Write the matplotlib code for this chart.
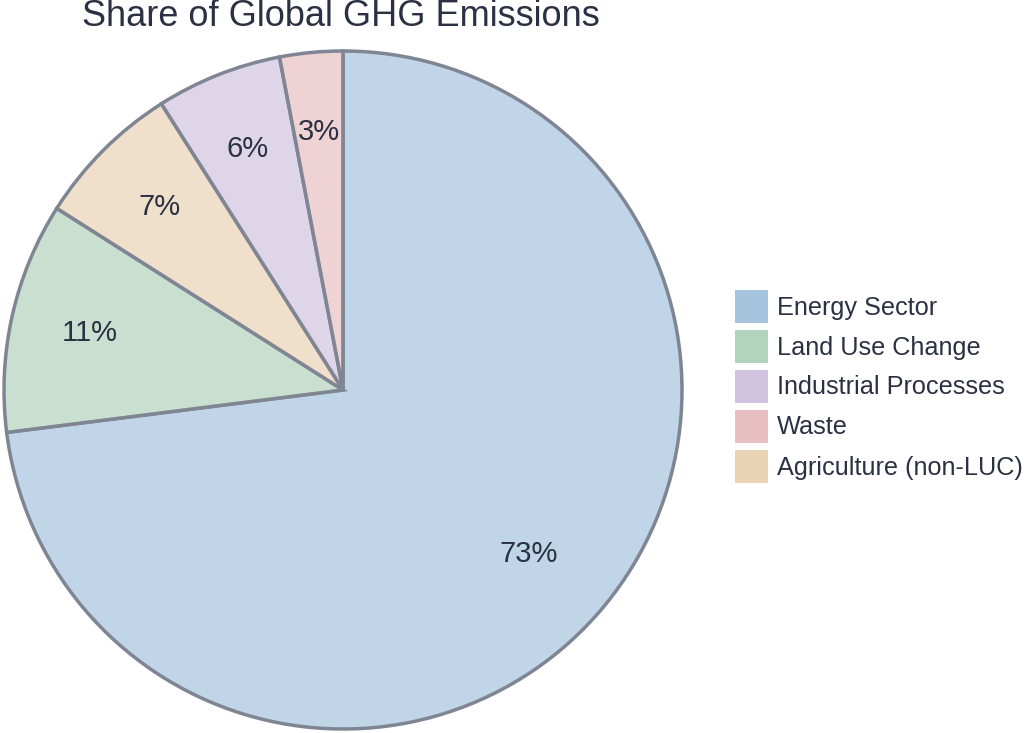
import matplotlib
matplotlib.use("Agg")
import matplotlib.pyplot as plt
from matplotlib.patches import Rectangle
import matplotlib.colors as mcolors
import numpy as np

plt.rcParams['font.family'] = ['Liberation Sans', 'DejaVu Sans']

categories = ["Energy Sector", "Land Use Change", "Industrial Processes", "Waste", "Agriculture (non-LUC)"]
values = [73, 11, 6, 3, 7]
colors = ["#a6c4de", "#b2d4bc", "#d0c4e0", "#e8bfc2", "#ead3b5"]
title = "Share of Global GHG Emissions"

text_color = "#2a3142"
edge_color = "#7f8593"

W, H = 1024, 733
fig = plt.figure(figsize=(W / 100, H / 100), dpi=100)

# pie sorted descending, clockwise from top
order = sorted(range(len(values)), key=lambda i: -values[i])
vals = [values[i] for i in order]
cols = [mcolors.to_rgba(colors[i], 0.7) for i in order]

cx, cy, r = 343, 390, 339
ax = fig.add_axes([(cx - r) / W, (H - cy - r) / H, 2 * r / W, 2 * r / H])
wedges, texts, autotexts = ax.pie(
    vals, colors=cols, startangle=90, counterclock=False,
    autopct=lambda p: f"{p:.0f}%", pctdistance=0.765,
    wedgeprops=dict(edgecolor=edge_color, linewidth=2.5),
    textprops=dict(fontsize=21, color=text_color),
)
for w, t, v in zip(wedges, autotexts, vals):
    if v == max(vals):
        ang = np.deg2rad((w.theta1 + w.theta2) / 2)
        t.set_position((0.73 * np.cos(ang), 0.73 * np.sin(ang)))
ax.set_xlim(-1.0, 1.0)
ax.set_ylim(-1.0, 1.0)
ax.set_aspect('equal')
ax.axis('off')
for w in wedges:
    w.set_clip_on(False)

fig.text(341 / W, 1 - 16 / H, title, ha='center', va='center', fontsize=26, color=text_color)

# legend (original order)
sw = 33
x0, y0, step = 735, 290, 40
for k, (lab, c) in enumerate(zip(categories, colors)):
    top = y0 + k * step
    fig.add_artist(Rectangle((x0 / W, 1 - (top + sw) / H), sw / W, sw / H,
                             transform=fig.transFigure, facecolor=c, edgecolor='none'))
    fig.text(777 / W, 1 - (top + sw / 2 + 1) / H, lab, ha='left', va='center',
             fontsize=18.2, color=text_color)

fig.savefig("out.png", dpi=100, facecolor='white')
